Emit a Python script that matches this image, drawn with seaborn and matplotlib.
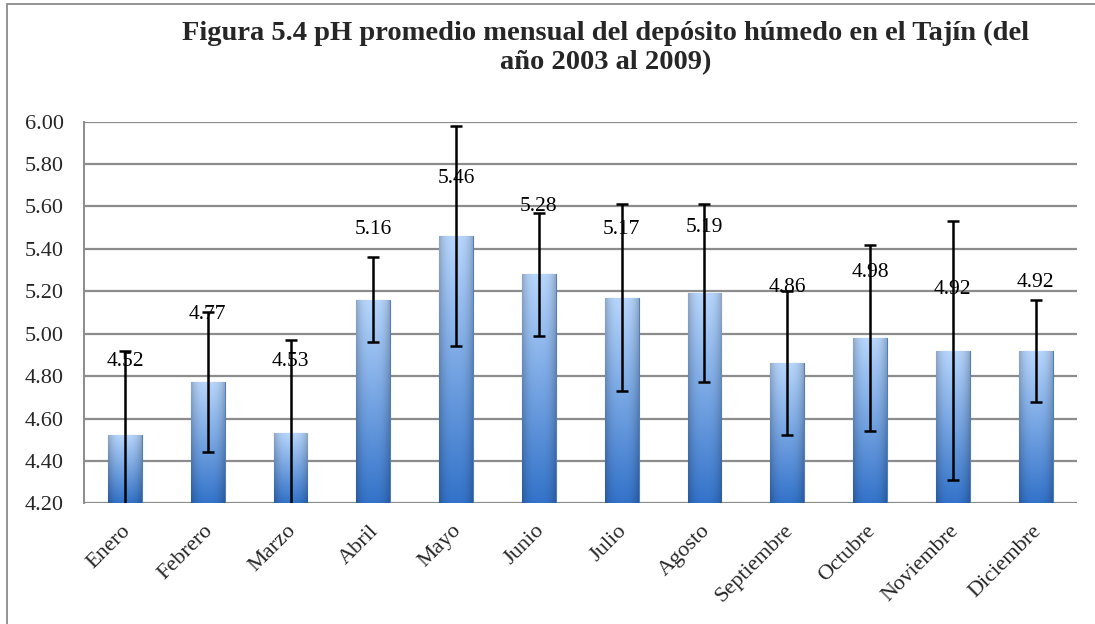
import numpy as np
import matplotlib.pyplot as plt
import matplotlib.transforms as mtransforms
from matplotlib.patches import Rectangle
import seaborn as sns

meses = ['Enero', 'Febrero', 'Marzo', 'Abril', 'Mayo', 'Junio', 'Julio',
         'Agosto', 'Septiembre', 'Octubre', 'Noviembre', 'Diciembre']
ph_medio = [4.52, 4.77, 4.53, 5.16, 5.46, 5.28, 5.17, 5.19, 4.86, 4.98, 4.92, 4.92]
desv_std = [0.40, 0.33, 0.44, 0.20, 0.52, 0.29, 0.44, 0.42, 0.34, 0.44, 0.61, 0.24]
# heights where the data labels sit (as placed in the original sheet)
etiqueta_y = [4.87, 5.09, 4.87, 5.49, 5.73, 5.60, 5.49, 5.50, 5.22, 5.29, 5.21, 5.24]

sns.set_theme(style='white')
plt.rcParams['font.family'] = ['Liberation Serif', 'DejaVu Serif']

fig = plt.figure(figsize=(10.95, 6.24), dpi=100)
ax = fig.add_axes([0.0763, 0.1934, 0.9073, 0.6116])

sns.barplot(x=meses, y=ph_medio, color='#6a9fe0', width=0.41,
            errorbar=None, ax=ax, zorder=2)

# gradient fill, light on top -> darker blue at the bottom
top_c = np.array([0.72, 0.84, 0.99])
bot_c = np.array([0.20, 0.45, 0.79])
t = np.linspace(0, 1, 120)[:, None, None]
s = np.linspace(-1, 1, 60)[None, :, None]
grad = top_c * (1 - t) + bot_c * t
grad = grad * (1 - 0.22 * np.abs(s) ** 3)
grad = np.clip(grad, 0, 1)
for p in ax.patches:
    x0, w, h = p.get_x(), p.get_width(), p.get_height()
    im = ax.imshow(grad, extent=(x0, x0 + w, 4.2, h), aspect='auto',
                   interpolation='bilinear', zorder=2.1)
    im.set_clip_path(p)
    p.set_edgecolor('#4f7fbf')
    p.set_linewidth(0.8)

ax.errorbar(np.arange(len(meses)), ph_medio, yerr=desv_std, fmt='none',
            ecolor='black', elinewidth=1.8, capsize=4, capthick=1.8, zorder=4)

for i, (v, ly) in enumerate(zip(ph_medio, etiqueta_y)):
    ax.text(i, ly, f'{v:.2f}', ha='center', va='center', fontsize=15.5,
            color='black', zorder=5)

ax.set_xlim(-0.5, len(meses) - 0.5)
ax.set_ylim(4.2, 6.0)
ax.set_yticks(np.arange(4.2, 6.01, 0.2))
ax.set_yticklabels([f'{v:.2f}' for v in np.arange(4.2, 6.01, 0.2)], fontsize=16)
ax.yaxis.grid(True, color='#8c8c8c', linewidth=1.6)
ax.set_axisbelow(True)
for side in ['top', 'right', 'bottom']:
    ax.spines[side].set_visible(False)
ax.spines['left'].set_color('#8c8c8c')
ax.spines['left'].set_linewidth(1.4)
ax.tick_params(axis='y', length=0, pad=14)
ax.tick_params(axis='x', length=0, pad=13)

ax.set_xticks(np.arange(len(meses)))
ax.set_xticklabels(meses, rotation=45, ha='right', rotation_mode='anchor',
                   fontsize=16)
offset = mtransforms.ScaledTranslation(-4 / 100, 0, fig.dpi_scale_trans)
for lbl in ax.get_xticklabels():
    lbl.set_transform(lbl.get_transform() + offset)

fig.text(0.553, 0.966, 'Figura 5.4 pH promedio mensual del depósito húmedo en el Tajín (del\naño 2003 al 2009)',
         ha='center', va='top', fontsize=20.5, fontweight='bold',
         linespacing=1.2)

# outer chart frame
fig.patches.append(Rectangle((7 / 1095, -0.05), 1.2, (624 - 4) / 624 + 0.05,
                             transform=fig.transFigure, fill=False,
                             edgecolor='#8c8c8c', linewidth=1.3))

fig.savefig('out.png', dpi=100)
